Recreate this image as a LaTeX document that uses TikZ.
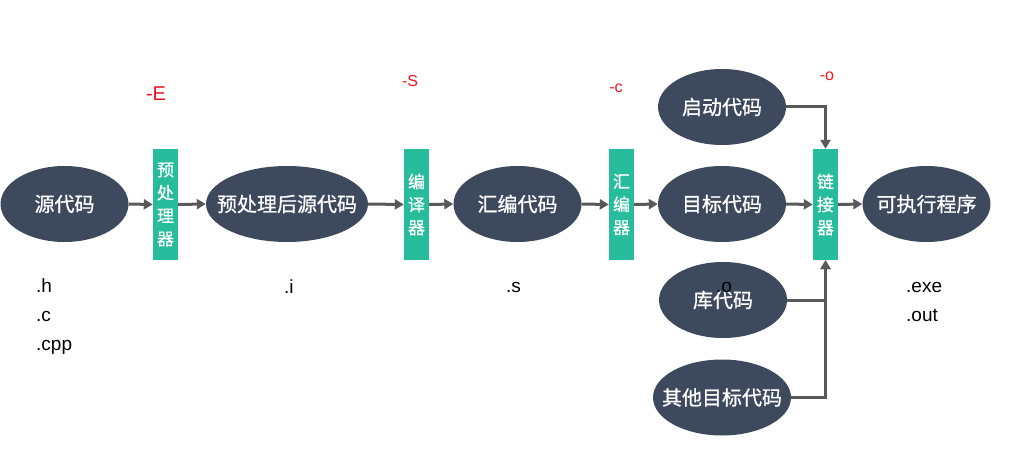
\documentclass[tikz,border=0pt]{standalone}
\usepackage{fontspec}
\setmainfont{Liberation Sans}
\newfontfamily\cjk{Noto Sans CJK SC}[FakeBold=0.8]
\usetikzlibrary{shapes.geometric,arrows.meta}
\definecolor{ell}{HTML}{3D4A5E}
\definecolor{teal}{HTML}{26BC9C}
\definecolor{arr}{HTML}{595959}
\definecolor{red}{HTML}{F0141E}
\tikzset{
  ellbox/.style={ellipse,fill=ell,minimum width=128pt,minimum height=76pt,inner xsep=-22pt,inner ysep=0pt,text=white,font=\cjk\fontsize{20}{24}\selectfont},
  tool/.style={rectangle,fill=teal,minimum width=25pt,minimum height=111pt,inner sep=0pt,text=white,align=center,font=\cjk\fontsize{17}{23}\selectfont},
  conn/.style={draw=arr,line width=3pt,-{Triangle[length=9pt,width=10pt]}},
  ext/.style={anchor=west,font=\fontsize{19}{29}\selectfont,align=left,inner sep=0pt},
  opt/.style={text=red,inner sep=0pt}
}
\begin{document}
\begin{tikzpicture}[x=1pt,y=-1pt]
\useasboundingbox (0,0) rectangle (1016,465);
\node[ellbox] (src) at (64.5,204) {源代码};
\node[ellbox,minimum width=162pt] (pi) at (287,204) {预处理后源代码};
\node[ellbox] (asm) at (517.5,204) {汇编代码};
\node[ellbox] (obj) at (722,204) {目标代码};
\node[ellbox] (start) at (722,107) {启动代码};
\node[ellbox] (lib) at (723,300) {库代码};
\node[ellbox,minimum width=138pt] (other) at (722,397.5) {其他目标代码};
\node[ellbox] (exe) at (926.5,204) {可执行程序};
\node[tool] (pre) at (165.5,204.5) {预\\处\\理\\器};
\node[tool] (cc) at (416.5,204.5) {编\\译\\器};
\node[tool] (as) at (621.5,204.5) {汇\\编\\器};
\node[tool] (ld) at (825.5,204.5) {链\\接\\器};
\draw[conn] (src.east) -- (pre.west);
\draw[conn] (pre.east) -- (pi.west);
\draw[conn] (pi.east) -- (cc.west);
\draw[conn] (cc.east) -- (asm.west);
\draw[conn] (asm.east) -- (as.west);
\draw[conn] (as.east) -- (obj.west);
\draw[conn] (obj.east) -- (ld.west);
\draw[conn] (ld.east) -- (exe.west);
\draw[conn] (start.east) -| (ld.north);
\draw[conn] (lib.east) -| (ld.south);
\draw[conn] (other.east) -| (ld.south);
\node[opt,font=\fontsize{20}{24}\selectfont] (oE) at (156,94) {-E};
\node[opt,font=\fontsize{16}{20}\selectfont] (oS) at (410,81) {-S};
\node[opt,font=\fontsize{16}{20}\selectfont] (oc) at (616,88) {-c};
\node[opt,font=\fontsize{16}{18}\selectfont] (oo) at (827,76) {-o};
\node[ext] (e1) at (36,317) {.h\\.c\\.cpp};
\node[ext] (e2) at (284,287) {.i};
\node[ext] (e3) at (506,287) {.s};
\node[ext] (e4) at (716,287) {.o};
\node[ext] (e5) at (906,301.5) {.exe\\.out};
\end{tikzpicture}
\end{document}
